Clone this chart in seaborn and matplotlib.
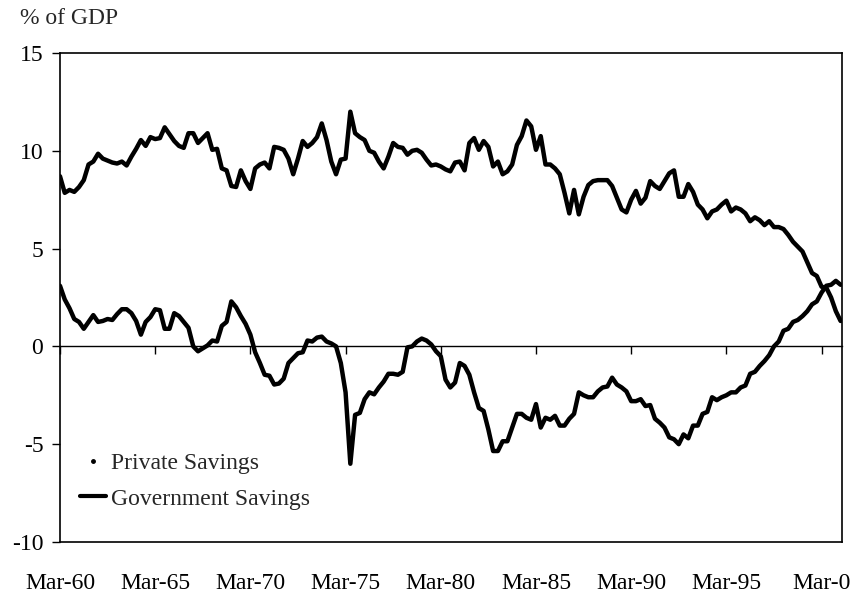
"""
Private vs government savings, % of GDP, quarterly Mar-60 to Mar-01.
"""

import matplotlib
matplotlib.use("Agg")
import matplotlib.pyplot as plt
from matplotlib.lines import Line2D
import numpy as np
import pandas as pd
import seaborn as sns

# quarterly values, Mar-60 .. Mar-01
private_savings = [
    8.7, 7.85, 8.0, 7.9, 8.15, 8.5, 9.3, 9.45, 9.85, 9.6,
    9.5, 9.4, 9.35, 9.45, 9.25, 9.7, 10.1, 10.55, 10.25, 10.7,
    10.6, 10.65, 11.2, 10.85, 10.5, 10.25, 10.15, 10.9, 10.9, 10.4,
    10.65, 10.9, 10.05, 10.1, 9.1, 9.0, 8.2, 8.15, 9.0, 8.45,
    8.05, 9.1, 9.3, 9.4, 9.1, 10.2, 10.15, 10.05, 9.6, 8.8,
    9.6, 10.5, 10.2, 10.4, 10.7, 11.4, 10.55, 9.45, 8.8, 9.55,
    9.6, 12.0, 10.9, 10.7, 10.55, 10.0, 9.9, 9.45, 9.1, 9.7,
    10.4, 10.2, 10.15, 9.8, 10.0, 10.05, 9.9, 9.55, 9.25, 9.3,
    9.2, 9.05, 8.95, 9.4, 9.45, 9.0, 10.4, 10.65, 10.05, 10.5,
    10.2, 9.2, 9.45, 8.8, 8.95, 9.3, 10.3, 10.75, 11.55, 11.25,
    10.05, 10.75, 9.3, 9.3, 9.1, 8.8, 7.85, 6.8, 8.0, 6.75,
    7.65, 8.25, 8.45, 8.5, 8.5, 8.5, 8.2, 7.6, 7.0, 6.85,
    7.5, 7.95, 7.3, 7.6, 8.45, 8.2, 8.05, 8.45, 8.85, 9.0,
    7.65, 7.65, 8.3, 7.9, 7.25, 7.0, 6.55, 6.9, 7.0, 7.25,
    7.45, 6.9, 7.1, 7.0, 6.8, 6.4, 6.6, 6.45, 6.2, 6.4,
    6.1, 6.1, 6.0, 5.7, 5.35, 5.1, 4.85, 4.3, 3.75, 3.6,
    3.05, 3.0, 2.5, 1.8, 1.3,
]
government_savings = [
    3.1, 2.4, 1.95, 1.4, 1.25, 0.9, 1.25, 1.6, 1.25, 1.3,
    1.4, 1.35, 1.65, 1.9, 1.9, 1.7, 1.3, 0.6, 1.25, 1.5,
    1.9, 1.85, 0.9, 0.9, 1.7, 1.55, 1.25, 0.95, 0.0, -0.25,
    -0.1, 0.05, 0.3, 0.25, 1.05, 1.25, 2.3, 2.0, 1.55, 1.15,
    0.6, -0.3, -0.85, -1.45, -1.5, -1.95, -1.9, -1.65, -0.85, -0.6,
    -0.35, -0.3, 0.3, 0.25, 0.45, 0.5, 0.25, 0.15, 0.0, -0.85,
    -2.35, -6.0, -3.5, -3.4, -2.7, -2.35, -2.45, -2.1, -1.8, -1.4,
    -1.4, -1.45, -1.3, -0.05, 0.0, 0.25, 0.4, 0.3, 0.1, -0.25,
    -0.5, -1.7, -2.1, -1.85, -0.85, -1.0, -1.45, -2.35, -3.15, -3.3,
    -4.25, -5.35, -5.35, -4.85, -4.85, -4.15, -3.45, -3.45, -3.65, -3.75,
    -2.95, -4.15, -3.65, -3.75, -3.55, -4.05, -4.05, -3.7, -3.45, -2.35,
    -2.5, -2.6, -2.6, -2.3, -2.1, -2.05, -1.6, -1.95, -2.1, -2.3,
    -2.8, -2.8, -2.7, -3.05, -3.0, -3.7, -3.9, -4.15, -4.65, -4.75,
    -5.0, -4.5, -4.7, -4.05, -4.05, -3.45, -3.35, -2.6, -2.75, -2.6,
    -2.5, -2.35, -2.35, -2.1, -2.0, -1.4, -1.3, -1.0, -0.75, -0.45,
    0.0, 0.25, 0.8, 0.9, 1.25, 1.35, 1.55, 1.8, 2.15, 2.3,
    2.75, 3.1, 3.15, 3.35, 3.15,
]
tick_labels = ["Mar-60", "Mar-65", "Mar-70", "Mar-75", "Mar-80",
               "Mar-85", "Mar-90", "Mar-95", "Mar-0"]
y_ticks = [-10, -5, 0, 5, 10, 15]

sns.set_style("white")
plt.rcParams["font.family"] = ["Liberation Serif", "DejaVu Serif"]

quarter = np.arange(len(private_savings))
df = pd.DataFrame({
    "quarter": np.concatenate([quarter, quarter]),
    "value": private_savings + government_savings,
    "series": ["Private Savings"] * len(quarter)
    + ["Government Savings"] * len(quarter),
})

fig = plt.figure(figsize=(8.52, 5.99), dpi=100)
ax = fig.add_axes([0.0704, 0.0952, 0.9179, 0.8163])

sns.lineplot(data=df, x="quarter", y="value", hue="series",
             palette={"Private Savings": "black",
                      "Government Savings": "black"},
             linewidth=3.2, legend=False, ax=ax)

ax.set_xlim(0, 164.3)
ax.set_ylim(-10, 15)
ax.set_yticks(y_ticks)
ax.set_yticklabels([str(v) for v in y_ticks])
ax.set_xticks(np.arange(0, 161, 20))
ax.set_xticklabels(tick_labels)
ax.tick_params(axis="y", direction="out", length=6, width=1, pad=6,
               labelsize=17, left=True, colors="black")
ax.tick_params(axis="x", length=0, pad=22, labelsize=17, colors="black")
ax.set_xlabel("")
ax.set_ylabel("")
for sp in ax.spines.values():
    sp.set_visible(True)
    sp.set_color("black")
    sp.set_linewidth(1.2)

# zero line with the quarter ticks hanging from it
zero_axis = ax.secondary_xaxis(10 / 25)
zero_axis.set_xticks(np.arange(0, 161, 20))
zero_axis.tick_params(direction="out", length=6, width=1,
                      labelbottom=False, labeltop=False, colors="black")
zero_axis.spines["bottom"].set_linewidth(1)
zero_axis.spines["bottom"].set_color("black")

handles = [
    Line2D([], [], color="black", marker=".", linestyle="none",
           markersize=5),
    Line2D([], [], color="black", linewidth=3),
]
ax.legend(handles, ["Private Savings", "Government Savings"],
          loc="lower left", bbox_to_anchor=(0.025, 0.066), frameon=False,
          fontsize=17, handlelength=1.1, handletextpad=0.25,
          labelspacing=0.6, borderpad=0, borderaxespad=0)

fig.text(0.023, 1 - 19 / 599, "% of GDP", fontsize=17, va="center",
         ha="left")

fig.savefig("out.png", dpi=100)
